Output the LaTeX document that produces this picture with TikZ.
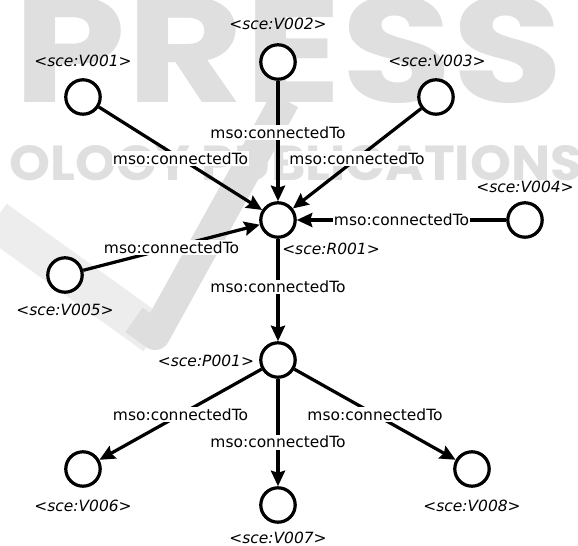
\documentclass[tikz,border=0pt]{standalone}
\usepackage{fontspec}
\setmainfont{DejaVu Sans}
\newfontfamily\wmfont{Poppins}
\usepackage{xcolor}
\usepackage{tikz}
\usetikzlibrary{arrows.meta}

\begin{document}
\begin{tikzpicture}[
  vertex/.style={draw, circle, fill=white, line width=2.3pt, inner sep=0pt, minimum size=0.86cm},
  iri/.style={font=\fontsize{11}{13}\selectfont\itshape, inner sep=0pt},
  rel/.style={font=\fontsize{11}{13}\selectfont, fill=white, inner sep=1pt},
  link/.style={line width=2.3pt, -{Stealth[length=11pt,width=10pt,inset=1.5pt]}},
  wm/.style={color=gray!25, inner sep=0pt, anchor=base}
]
\useasboundingbox (-6.95,5.5) rectangle (7.5,-8.15);

% watermark in the background
\begin{scope}
\clip (-6.95,5.5) rectangle (7.5,-8.15);
\node[wm, font=\wmfont\bfseries\fontsize{107}{107}\selectfont, xscale=1.2, transform shape] (wmpress) at (0.275,2.925) {PRESS};
\node[wm, font=\wmfont\bfseries\fontsize{35}{35}\selectfont, xscale=1.06, transform shape] (wmpub) at (0.45,0.975) {OLOGY PUBLICATIONS};
\draw[gray!14, line width=1cm] (-7.075,0) -- (-3.075,-2.875);
\draw[gray!26, line width=0.75cm, line join=round] (-3.6,-2.5) -- (-3.075,-2.875) -- (0.175,3.0);
\end{scope}

\node[vertex] (r001) at (0,0) {};
\node[vertex] (v001) at (-4.875,3.075) {};
\node[vertex] (v002) at (0,3.95) {};
\node[vertex] (v003) at (3.95,3.075) {};
\node[vertex] (v004) at (6.175,0) {};
\node[vertex] (v005) at (-5.325,-1.375) {};
\node[vertex] (p001) at (0,-3.5) {};
\node[vertex] (v006) at (-4.875,-6.225) {};
\node[vertex] (v007) at (0,-7.125) {};
\node[vertex] (v008) at (4.85,-6.225) {};

\node[iri] (r001name) at (1.325,-0.725) {<sce:R001>};
\node[iri] (v001name) at (-4.875,3.975) {<sce:V001>};
\node[iri] (v002name) at (0,4.9) {<sce:V002>};
\node[iri] (v003name) at (3.975,3.975) {<sce:V003>};
\node[iri] (v004name) at (6.175,0.825) {<sce:V004>};
\node[iri] (v005name) at (-5.325,-2.25) {<sce:V005>};
\node[iri] (p001name) at (-1.8,-3.525) {<sce:P001>};
\node[iri] (v006name) at (-4.875,-7.15) {<sce:V006>};
\node[iri] (v007name) at (0,-7.95) {<sce:V007>};
\node[iri] (v008name) at (4.85,-7.15) {<sce:V008>};

\draw[link] (v001) -- node[rel] {mso:connectedTo} (r001);
\draw[link] (v002) -- node[rel, pos=0.43] {mso:connectedTo} (r001);
\draw[link] (v003) -- node[rel] {mso:connectedTo} (r001);
\draw[link] (v004) -- node[rel] {mso:connectedTo} (r001);
\draw[link] (v005) -- node[rel] {mso:connectedTo} (r001);
\draw[link] (r001) -- node[rel, pos=0.47] {mso:connectedTo} (p001);
\draw[link] (p001) -- node[rel] {mso:connectedTo} (v006);
\draw[link] (p001) -- node[rel, pos=0.59] {mso:connectedTo} (v007);
\draw[link] (p001) -- node[rel] {mso:connectedTo} (v008);
\end{tikzpicture}
\end{document}
